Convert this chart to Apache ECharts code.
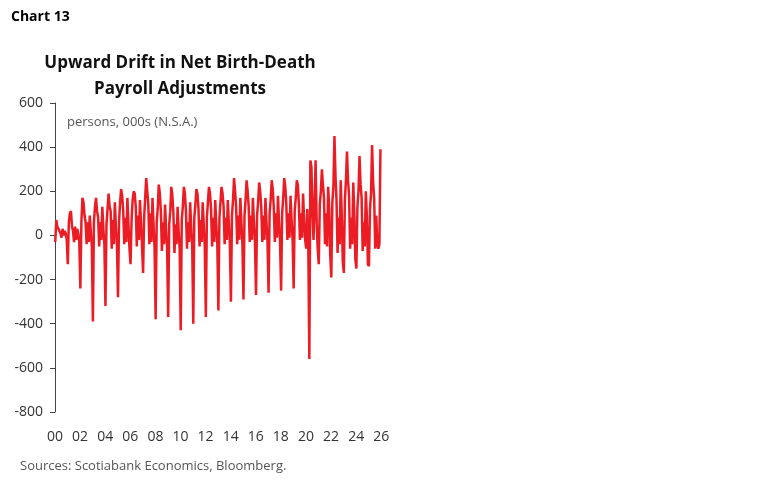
<!DOCTYPE html>
<html><head><meta charset="utf-8">
<script src="https://cdn.jsdelivr.net/npm/echarts@6/dist/echarts.min.js"></script>
<style>html,body{margin:0;padding:0;background:#fff}#c{width:764px;height:482px}</style>
</head><body><div id="c"></div>
<script>
const startYear = 2000;
const yTicks = [-800,-600,-400,-200,0,200,400,600];
const y2000=[-30,70,40,30,20,10,-10,30,0,20,10,-20];
const y2001=[-130,60,100,110,40,20,-30,40,-20,30,10,-30];
const y2002=[-240,60,170,150,90,60,-40,60,-30,90,20,-50];
const y2003=[-390,60,130,170,110,80,-50,60,-20,130,30,-40];
const y2004=[-320,50,120,190,130,110,-60,70,-40,150,40,-40];
const y2005=[-280,60,150,210,180,110,-40,80,-30,170,50,-60];
const y2006=[-130,70,160,200,190,130,-50,90,-20,160,60,-50];
const y2007=[-170,80,170,260,200,140,-40,100,-30,170,50,-60];
const y2008=[-380,60,120,230,190,110,-70,60,-40,140,30,-60];
const y2009=[-370,50,110,220,180,100,-80,50,-40,130,20,-60];
const y2010=[-430,70,130,220,190,110,-60,60,-30,150,40,-50];
const y2011=[-400,80,140,210,190,120,-50,70,-30,150,50,-50];
const y2012=[-370,80,150,220,190,120,-50,80,-30,160,50,-40];
const y2013=[-340,80,150,220,190,130,-40,80,-20,160,60,-40];
const y2014=[-300,90,160,260,200,130,-40,90,-20,170,60,-40];
const y2015=[-290,90,160,250,200,130,-30,90,-20,170,60,-30];
const y2016=[-270,90,150,240,200,130,-30,90,-20,170,60,-30];
const y2017=[-260,100,160,250,210,130,-30,100,-10,180,60,-30];
const y2018=[-250,100,170,260,220,140,-20,100,-10,180,70,-20];
const y2019=[-240,110,170,250,230,140,-20,100,-10,190,70,-20];
const y2020=[-60,120,-40,-560,340,310,100,-20,150,340,60,-60];
const y2021=[-130,140,200,300,230,170,-40,100,-50,220,120,-90];
const y2022=[-190,150,220,450,270,160,-80,80,-40,250,90,-120];
const y2023=[-170,160,250,380,250,180,-60,80,-40,240,100,-110];
const y2024=[-150,130,200,360,230,170,-70,60,-50,200,90,-130];
const y2025=[-140,120,190,410,240,170,-60,90,-40,-60,-40,390];
const years=[y2000,y2001,y2002,y2003,y2004,y2005,y2006,y2007,y2008,y2009,y2010,y2011,y2012,y2013,y2014,y2015,y2016,y2017,y2018,y2019,y2020,y2021,y2022,y2023,y2024,y2025];
const data=[];
years.forEach((arr,i)=>arr.forEach((v,m)=>data.push([startYear+i+m/12+0.02,v])));
const chart=echarts.init(document.getElementById('c'));
chart.setOption({
  animation:false,
  textStyle:{fontFamily:'Open Sans, sans-serif'},
  title:[
    {text:'Chart 13',left:6,top:5,textStyle:{fontSize:14,fontWeight:'bold',color:'#000'}},
    {text:'Upward Drift in Net Birth-Death\nPayroll Adjustments',left:175,textAlign:'center',top:45,textStyle:{fontSize:17,fontWeight:'bold',color:'#111',lineHeight:26}},
    {text:'persons, 000s (N.S.A.)',left:62,top:111,textStyle:{fontSize:13,fontWeight:'normal',color:'#555'}},
    {text:'Sources: Scotiabank Economics, Bloomberg.',left:15,top:455,textStyle:{fontSize:13,fontWeight:'normal',color:'#555'}}
  ],
  grid:{left:55,top:103,width:330,height:309},
  xAxis:{type:'value',min:2000,max:2026.3,interval:2,
    axisLine:{show:false,onZero:false},axisTick:{show:false},splitLine:{show:false},
    axisLabel:{showMaxLabel:false,showMinLabel:true,margin:18,fontSize:14,color:'#333',formatter:v=>String(v%100).padStart(2,'0')}},
  yAxis:{type:'value',min:yTicks[0],max:yTicks[yTicks.length-1],interval:200,
    axisLine:{show:true,lineStyle:{color:'#444'}},axisTick:{show:true,length:5,lineStyle:{color:'#444'}},
    splitLine:{show:false},axisLabel:{fontSize:14,color:'#333',margin:12}},
  series:[{type:'line',data:data,showSymbol:false,lineStyle:{color:'#ec1c24',width:2.5},itemStyle:{color:'#ec1c24'}}]
});
</script></body></html>
